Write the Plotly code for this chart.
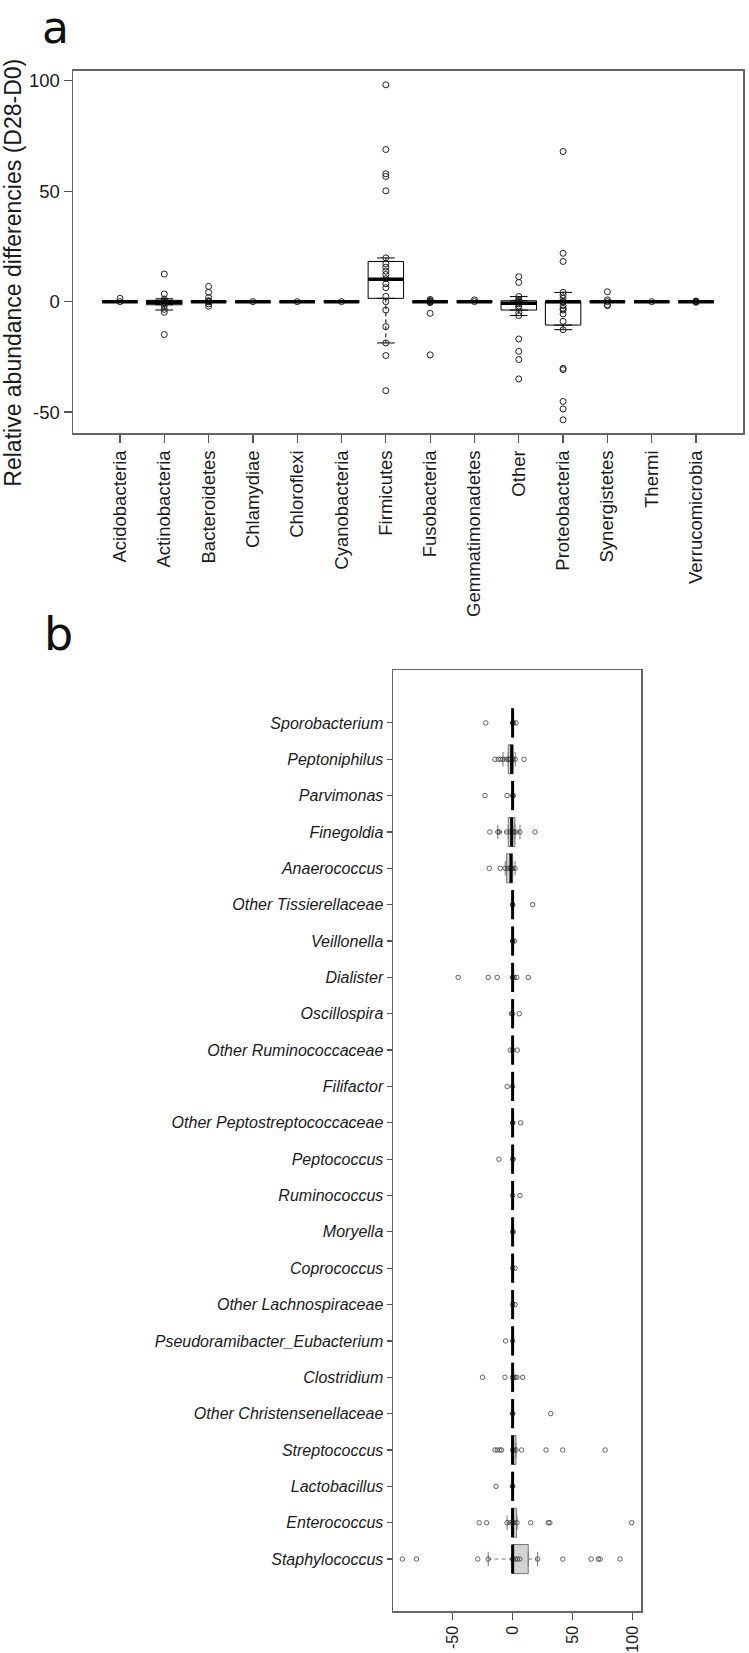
import plotly.graph_objects as go

W, H = 749, 1653
FONT = "Arial, Liberation Sans, sans-serif"

# ---------------- Panel a : phyla ----------------
phyla = ["Acidobacteria", "Actinobacteria", "Bacteroidetes", "Chlamydiae", "Chloroflexi",
         "Cyanobacteria", "Firmicutes", "Fusobacteria", "Gemmatimonadetes", "Other",
         "Proteobacteria", "Synergistetes", "Thermi", "Verrucomicrobia"]
phyla_q1 = [0, -1.4, 0, 0, 0, 0, 1.5, 0, 0, -3.8, -10.6, 0, 0, 0]
phyla_median = [0, -0.3, 0, 0, 0, 0, 10.1, 0, 0, -0.7, 0, 0, 0, 0]
phyla_q3 = [0, 0.6, 0, 0, 0, 0, 18.2, 0, 0, 0.4, 0, 0, 0, 0]
phyla_lo = [0, -3.8, 0, 0, 0, 0, -18.7, 0, 0, -6.3, -12.7, 0, 0, 0]
phyla_hi = [0, 1.3, 0, 0, 0, 0, 19.8, 0, 0, 2.3, 4.2, 0, 0, 0]
phyla_points = [
    [0, 1.5],
    [12.5, 3.5, 1.2, 0.5, 0, 0, -0.5, -1, -2, -3.5, -4.8, -14.9],
    [6.9, 4.2, 1.9, 0.5, 0, 0, -1, -2.1],
    [0],
    [0],
    [0],
    [98.2, 68.9, 57.9, 56.7, 50.2, 19.8, 17.1, 15.6, 13.8, 12.3, 10.4, 8.1, 6.3, 2.4, 0,
     -3.8, -11.3, -18.7, -24.4, -40.3],
    [1, 0.5, 0, 0, 0, -0.5, -5.3, -24.1],
    [0, 0.8],
    [11.3, 8.7, 2.3, 1, 0.5, 0, -1, -2, -3, -5, -6.3, -16.9, -22.5, -26.2, -35],
    [68, 21.9, 18.2, 4.2, 3, 1.5, 0, 0, -1.8, -3, -3.8, -5.6, -8.9, -12.7, -30.2, -30.8,
     -45.2, -48.6, -53.5],
    [4.5, 0.8, 0, -1.4, -1.8],
    [0],
    [0, 0, 0.3, -0.3],
]
a_yticks = [-50, 0, 50, 100]

# ---------------- Panel b : genera ----------------
genera = ["Sporobacterium", "Peptoniphilus", "Parvimonas", "Finegoldia", "Anaerococcus",
          "Other Tissierellaceae", "Veillonella", "Dialister", "Oscillospira",
          "Other Ruminococcaceae", "Filifactor", "Other Peptostreptococcaceae", "Peptococcus",
          "Ruminococcus", "Moryella", "Coprococcus", "Other Lachnospiraceae",
          "Pseudoramibacter_Eubacterium", "Clostridium", "Other Christensenellaceae",
          "Streptococcus", "Lactobacillus", "Enterococcus", "Staphylococcus"]
genera_q1 = [0, -3.6, 0, -3.6, -5, 0, 0, 0, 0, 0, 0, 0, 0, 0, 0, 0, 0, 0, 0, 0, -0.8, 0, -0.8, 0]
genera_median = [0, -0.8, 0, -0.8, -1.4, 0, 0, 0, 0, 0, 0, 0, 0, 0, 0, 0, 0, 0, 0, 0, 0, 0, 0, 0]
genera_q3 = [0, 0.5, 0, 1.9, 0, 0, 0, 0, 0, 0, 0, 0, 0, 0, 0, 0, 0, 0, 0, 0, 2.8, 0, 3.3, 13]
genera_lo = [0, -8, 0, -12.3, -6.2, 0, 0, 0, 0, 0, 0, 0, 0, 0, 0, 0, 0, 0, 0, 0, -0.8, 0, -4.6, -20.3]
genera_hi = [0, 2.2, 0, 6.1, 2, 0, 0, 0, 0, 0, 0, 0, 0, 0, 0, 0, 0, 0, 0, 0, 2.8, 0, 3.6, 20.8]
genera_points = [
    [-22.3, 0, 0, 0.8, 2.8],
    [-14.7, -11.9, -10, -8, -5.3, -3.6, -2.2, 0, 2.2, 9.4],
    [-23, -4.6, 0, 0.5],
    [-18.9, -12.3, -11, -5, -1.5, 0, 1, 3, 6.1, 18.6],
    [-19.4, -10.3, -6.2, -4, -2, -1, 0, 2],
    [0, 0, 16.7],
    [0, 0, 1.5],
    [-45.3, -20.3, -12.8, 0, 0, 1.5, 3.5, 13],
    [-1, 0, 5.6],
    [-2, 0, 3.9],
    [-4.5, 0],
    [0, 0, 6.7],
    [-11.4, 0, 0.5],
    [0, 6.1],
    [0, 0.5],
    [0, 2],
    [0, 2],
    [-5.8, 0],
    [-25, -6.4, 0, 1, 2, 3.5, 8.3],
    [0, 0, 31.7],
    [-14.7, -12.8, -10.6, -9.2, 0, 1, 2.8, 7.5, 27.8, 41.7, 77],
    [-13.8, 0, 0],
    [-27.8, -21.7, -4.6, -2, 0, 1, 3.6, 15, 29.7, 31, 99],
    [-91.7, -80, -29, -20.3, 0, 2, 4, 6, 20.8, 41.7, 65.3, 71.3, 72.8, 89.4],
]
b_xticks = [-50, 0, 50, 100]


def px_x(p):
    return p / W


def px_y(p):
    return 1 - p / H


fig = go.Figure()

BOXW = 0.8
CAPW = 0.2


def add_panel(cats, q1, med, q3, lo, hi, pts, horizontal, xa, ya, box_line, box_fill,
              whisk_color, med_w, marker):
    pos = list(range(len(cats)))
    box_kw = dict(q1=q1, median=med, q3=q3, lowerfence=q1, upperfence=q3, width=BOXW,
                  fillcolor=box_fill, line=dict(color=box_line, width=1),
                  boxpoints=False, hoverinfo="skip", showlegend=False, xaxis=xa, yaxis=ya)
    if horizontal:
        fig.add_trace(go.Box(y=pos, orientation="h", **box_kw))
    else:
        fig.add_trace(go.Box(x=pos, orientation="v", **box_kw))

    # whiskers (dashed) and staples
    wp, wv, cp, cv = [], [], [], []
    for i in pos:
        for a, b in ((q3[i], hi[i]), (q1[i], lo[i])):
            if a != b:
                wp += [i, i, None]
                wv += [a, b, None]
                cp += [i - CAPW, i + CAPW, None]
                cv += [b, b, None]
    # medians
    mp, mv = [], []
    for i in pos:
        mp += [i - BOXW / 2, i + BOXW / 2, None]
        mv += [med[i], med[i], None]
    # points
    pp, pv = [], []
    for i in pos:
        pp += [i] * len(pts[i])
        pv += pts[i]

    def sc(p, v, **kw):
        if horizontal:
            return go.Scatter(x=v, y=p, xaxis=xa, yaxis=ya, hoverinfo="skip",
                              showlegend=False, **kw)
        return go.Scatter(x=p, y=v, xaxis=xa, yaxis=ya, hoverinfo="skip",
                          showlegend=False, **kw)

    fig.add_trace(sc(wp, wv, mode="lines", line=dict(color=whisk_color, width=1, dash="4px,3px")))
    fig.add_trace(sc(cp, cv, mode="lines", line=dict(color=whisk_color, width=1)))
    fig.add_trace(sc(pp, pv, mode="markers", marker=marker))
    fig.add_trace(sc(mp, mv, mode="lines", line=dict(color="black", width=med_w)))


add_panel(phyla, phyla_q1, phyla_median, phyla_q3, phyla_lo, phyla_hi, phyla_points,
          False, "x", "y", "black", "white", "black", 3.5,
          dict(symbol="circle-open", size=6, color="#222", line=dict(width=1, color="#222")))

add_panel(genera, genera_q1, genera_median, genera_q3, genera_lo, genera_hi, genera_points,
          True, "x2", "y2", "#777777", "#d3d3d3", "#777777", 3,
          dict(symbol="circle-open", size=4.5, color="rgba(50,50,50,0.75)",
               line=dict(width=1, color="rgba(50,50,50,0.75)")))

axis_common = dict(showgrid=False, zeroline=False, showline=True, mirror=True,
                   linecolor="#666666", linewidth=1.5, ticks="outside", tickcolor="#555555",
                   tickwidth=1.2)

LETTER_FONT = "DejaVu Sans, Liberation Sans, sans-serif"

fig.update_layout(
    width=W, height=H,
    margin=dict(l=0, r=0, t=0, b=0),
    paper_bgcolor="white", plot_bgcolor="white",
    font=dict(family=FONT, color="#1a1a1a"),
    xaxis=dict(domain=[px_x(73), px_x(743)], range=[-1.06, 14.06], anchor="y",
               tickmode="array", tickvals=list(range(len(phyla))), ticktext=phyla,
               tickangle=-90, ticklen=8, tickfont=dict(size=18.5, family=FONT),
               **axis_common),
    yaxis=dict(domain=[px_y(433), px_y(70)], range=[-59.7, 104.5], anchor="x",
               tickmode="array", tickvals=a_yticks, ticktext=[str(v) for v in a_yticks],
               ticklen=8, tickfont=dict(size=18.5, family=FONT), **axis_common),
    xaxis2=dict(domain=[px_x(393), px_x(641)], range=[-99.5, 106.8], anchor="y2",
                tickmode="array", tickvals=b_xticks, ticktext=[str(v) for v in b_xticks],
                tickangle=-90, ticklen=7, tickfont=dict(size=16, family=FONT),
                **axis_common),
    yaxis2=dict(domain=[px_y(1612), px_y(670)], range=[24.43, -1.45], anchor="x2",
                tickmode="array", tickvals=list(range(len(genera))),
                ticktext=["<i>" + g + "</i>" for g in genera],
                ticklen=5, tickfont=dict(size=16, family=FONT), **axis_common),
    annotations=[
        dict(text="Relative abundance differencies (D28-D0)", textangle=-90,
             x=px_x(13), y=px_y(272), xref="paper", yref="paper",
             xanchor="center", yanchor="middle", showarrow=False,
             font=dict(size=23, family=FONT, color="#1a1a1a")),
        dict(text="a", x=px_x(55), y=1.0, xref="paper", yref="paper",
             xanchor="center", yanchor="top", showarrow=False, borderpad=0,
             font=dict(size=44, family=LETTER_FONT, color="#111")),
        dict(text="b", x=px_x(58), y=px_y(634), xref="paper", yref="paper",
             xanchor="center", yanchor="middle", showarrow=False,
             font=dict(size=46, family=LETTER_FONT, color="#111")),
    ],
)

fig.write_html("out.html",
               config={"displayModeBar": False, "staticPlot": True},
               post_script="document.body.style.margin='0px';"
                           "document.documentElement.style.overflow='hidden';")
